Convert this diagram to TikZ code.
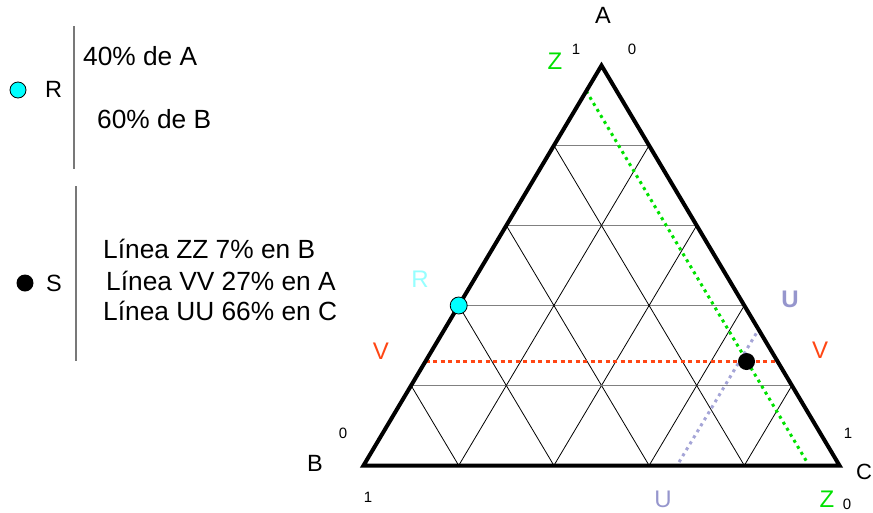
\documentclass[tikz,border=0pt]{standalone}
\usepackage{fontspec}
\setmainfont{Liberation Sans}
\usetikzlibrary{calc}
\definecolor{zgreen}{RGB}{0,225,0}
\definecolor{vorange}{RGB}{255,70,20}
\definecolor{ulav}{RGB}{165,165,215}
\definecolor{ulabel}{RGB}{150,150,205}
\definecolor{rpale}{RGB}{150,255,255}
\definecolor{rcyan}{RGB}{0,255,255}
\definecolor{sepgray}{RGB}{120,120,120}
\begin{document}
\begin{tikzpicture}[x=1pt,y=-1pt,
  gridh/.style={draw={rgb,255:red,128;green,128;blue,128}, line width=1.6pt},
  grids/.style={draw=black, line width=0.8pt},
  tri/.style={draw=black, line width=4pt, line join=miter},
  dotline/.style={line width=3pt, dash pattern=on 3pt off 4pt},
  seprule/.style={draw=sepgray, line width=1.4pt},
  lab/.style={inner sep=0pt, font=\fontsize{23.5}{26}\selectfont},
  biglab/.style={inner sep=0pt, font=\fontsize{24}{26}\selectfont},
  digit/.style={inner sep=0pt, font=\fontsize{15}{17}\selectfont},
  txt/.style={inner sep=0pt, anchor=base west, font=\fontsize{26.3}{28}\selectfont},
  ptcyan/.style={circle, draw=black, fill=rcyan, line width=0.8pt, minimum size=17pt, inner sep=0pt},
  ptblack/.style={circle, fill=black, minimum size=17pt, inner sep=0pt}]
\useasboundingbox (0,0) rectangle (873,512);
\coordinate (A) at (601.5,65.5);
\coordinate (B) at (363.5,465.5);
\coordinate (C) at (839.5,465.5);
% grid
\foreach \f in {0.2,0.4,0.6,0.8} {
  \coordinate (hL) at ($(A)!\f!(B)$);
  \coordinate (hR) at ($(A)!\f!(C)$);
  \draw[gridh] (hL) -- (hR);
  \coordinate (sB1) at ($(B)!\f!(C)$);
  \coordinate (sA1) at ($(B)!\f!(A)$);
  \draw[grids] (sB1) -- (sA1);
  \coordinate (sB2) at ($(C)!\f!(B)$);
  \coordinate (sA2) at ($(C)!\f!(A)$);
  \draw[grids] (sB2) -- (sA2);
}
% dotted lines
\coordinate (Z1) at ($(A)!0.064!(B)$);
\coordinate (Z2) at ($(B)!0.936!(C)$);
\draw[dotline, draw=zgreen, shorten >=4pt] (Z1) -- (Z2);
\coordinate (V1) at ($(A)!0.739!(B)$);
\coordinate (V2) at ($(A)!0.739!(C)$);
\draw[dotline, draw=vorange, dash pattern=on 4pt off 3.5pt] (V1) -- (V2);
\coordinate (U1) at ($(B)!0.6586!(C)$);
\coordinate (U2) at ($(C)!0.34!(A)$);
\draw[dotline, draw=ulav, shorten <=4pt, shorten >=3pt] (U1) -- (U2);
% triangle
\draw[tri] (A) -- (B) -- (C) -- cycle;
% points
\node[ptcyan] (Rpt) at ($(A)!0.6!(B)$) {};
\node[ptblack] (Spt) at (746.5,361.5) {};
% triangle labels
\node[lab] (lA) at (603,15.5) {A};
\node[digit] (a1) at (576,49) {1};
\node[digit] (a0) at (632,49) {0};
\node[biglab, text=zgreen] (zTop) at (555,61) {Z};
\node[lab] (lB) at (315,463) {B};
\node[digit] (b0) at (343,433) {0};
\node[digit] (b1) at (368,497) {1};
\node[digit] (c1) at (848,433) {1};
\node[lab, anchor=west, font=\fontsize{22}{24}\selectfont] (lC) at (856,472) {C};
\node[biglab, text=ulabel] (uBot) at (663,499) {U};
\node[biglab, text=zgreen] (zBot) at (827,499) {Z};
\node[digit] (c0) at (847,504) {0};
\node[biglab, text=ulabel, font=\fontsize{24}{26}\selectfont\bfseries] (uTop) at (790,299) {U};
\node[biglab, text=vorange] (vR) at (820,350) {V};
\node[biglab, text=vorange] (vL) at (381,351) {V};
\node[biglab, text=rpale] (rLab) at (420,279) {R};
% legend
\node[ptcyan, minimum size=16pt] (legR) at (18,90) {};
\node[lab, anchor=base west] (legRt) at (45,97) {R};
\coordinate (s1a) at (74,26);
\coordinate (s1b) at (74,169);
\draw[seprule] (s1a) -- (s1b);
\node[txt] (t1) at (83,65) {40\% de A};
\node[txt] (t2) at (97,128) {60\% de B};
\node[ptblack] (legS) at (25,283) {};
\node[lab, anchor=base west] (legSt) at (46,291) {S};
\coordinate (s2a) at (76,186);
\coordinate (s2b) at (76,361);
\draw[seprule] (s2a) -- (s2b);
\node[txt] (t3) at (103,258) {Línea ZZ 7\% en B};
\node[txt] (t4) at (106,290) {Línea VV 27\% en A};
\node[txt] (t5) at (103,320) {Línea UU 66\% en C};
\end{tikzpicture}
\end{document}
